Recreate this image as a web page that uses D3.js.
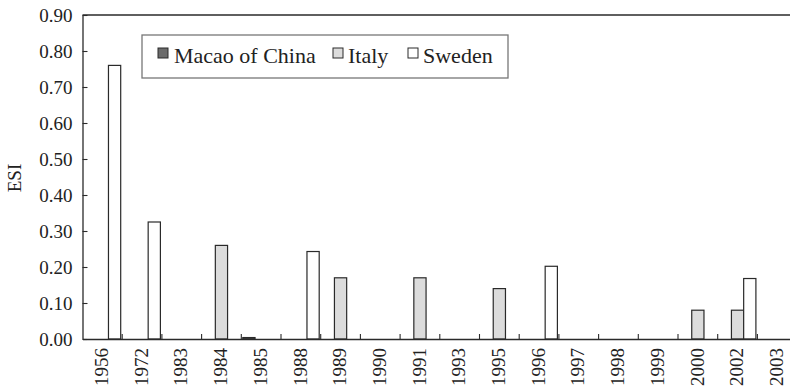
<!DOCTYPE html>
<html>
<head>
<meta charset="utf-8">
<script src="https://cdn.jsdelivr.net/npm/d3@7"></script>
<style>
  html, body { margin: 0; padding: 0; background: #fff; }
  svg { display: block; }
  text { font-family: "Liberation Serif", "Times New Roman", serif; fill: #222; }
</style>
</head>
<body>
<svg id="chart" width="790" height="392"></svg>
<script>
// Years on the category axis
const years = ["1956","1972","1983","1984","1985","1988","1989","1990","1991",
               "1993","1995","1996","1997","1998","1999","2000","2002","2003"];

// ESI per country and year (0 = no value)
const macao  = [0, 0, 0, 0, 0.004, 0, 0, 0, 0, 0, 0, 0, 0, 0, 0, 0, 0, 0];
const italy  = [0, 0, 0, 0.26, 0, 0, 0.17, 0, 0.17, 0, 0.14, 0, 0, 0, 0, 0.08, 0.08, 0];
const sweden = [0.76, 0.325, 0, 0, 0, 0.243, 0, 0, 0, 0, 0, 0.202, 0, 0, 0, 0, 0.168, 0];

const seriesNames = ["Macao of China", "Italy", "Sweden"];
const yTicks = [0, 0.1, 0.2, 0.3, 0.4, 0.5, 0.6, 0.7, 0.8, 0.9];

const fills = { "Macao of China": "#6b6b6b", "Italy": "#dcdcdc", "Sweden": "#ffffff" };
const ink = "#2a2a2a";

const series = [
  { name: "Macao of China", values: macao },
  { name: "Italy", values: italy },
  { name: "Sweden", values: sweden }
];

const svg = d3.select("#chart");
const plotLeft = 82.5, plotTop = 15, plotBottom = 339, bandW = 39.7;

const x0 = d3.scaleBand().domain(years).range([plotLeft, plotLeft + bandW * years.length]);
const x1 = d3.scaleBand().domain(seriesNames).range([1.5, x0.bandwidth() - 1.5]);
const y = d3.scaleLinear().domain([0, 0.9]).range([plotBottom, plotTop]);

// Bars
const groups = svg.append("g").selectAll("g")
  .data(years)
  .join("g")
  .attr("transform", d => `translate(${x0(d)},0)`);

groups.selectAll("rect")
  .data((d, i) => series.map(s => ({ name: s.name, value: s.values[i] })).filter(v => v.value > 0))
  .join("rect")
  .attr("x", d => x1(d.name))
  .attr("y", d => y(d.value))
  .attr("width", x1.bandwidth())
  .attr("height", d => Math.max(1, y(0) - y(d.value)))
  .attr("fill", d => fills[d.name])
  .attr("stroke", ink)
  .attr("stroke-width", 1.2);

// Y axis with inward ticks
const yAxis = svg.append("g")
  .attr("transform", `translate(${plotLeft},0)`)
  .call(d3.axisLeft(y).tickValues(yTicks).tickFormat(d3.format(".2f")).tickSizeInner(-5).tickSizeOuter(0).tickPadding(10));
yAxis.select(".domain").attr("stroke", ink).attr("stroke-width", 1.3);
yAxis.selectAll(".tick line").attr("stroke", ink).attr("stroke-width", 1.1);
yAxis.selectAll(".tick text").attr("font-size", 19).attr("fill", "#222")
  .style("font-family", "'Liberation Serif', serif");

// Top frame line
svg.append("line")
  .attr("x1", plotLeft).attr("x2", 790)
  .attr("y1", plotTop).attr("y2", plotTop)
  .attr("stroke", ink).attr("stroke-width", 1.3);

// X axis: baseline, rotated labels
const xAxis = svg.append("g")
  .attr("transform", `translate(0,${plotBottom})`)
  .call(d3.axisBottom(x0).tickSize(0).tickPadding(0));
xAxis.select(".domain").attr("stroke", ink).attr("stroke-width", 1.3);
xAxis.selectAll(".tick text")
  .attr("font-size", 19)
  .attr("fill", "#222")
  .style("font-family", "'Liberation Serif', serif")
  .attr("text-anchor", "end")
  .attr("transform", "rotate(-90)")
  .attr("x", -9)
  .attr("y", 0)
  .attr("dy", "0.3em");

// Inward ticks at category boundaries
svg.append("g").selectAll("line")
  .data(years.slice(0, -1))
  .join("line")
  .attr("x1", d => x0(d) + x0.bandwidth())
  .attr("x2", d => x0(d) + x0.bandwidth())
  .attr("y1", plotBottom)
  .attr("y2", plotBottom - 5)
  .attr("stroke", ink)
  .attr("stroke-width", 1.1);

// Y axis title
svg.append("text")
  .attr("transform", `translate(21,178) rotate(-90)`)
  .attr("text-anchor", "middle")
  .attr("font-size", 19)
  .text("ESI");

// Legend
const legend = svg.append("g");
legend.append("rect")
  .attr("x", 142).attr("y", 35).attr("width", 366).attr("height", 43)
  .attr("fill", "#fff").attr("stroke", "#777").attr("stroke-width", 1.3);

const legendItems = [
  { name: "Macao of China", sx: 158, tx: 174 },
  { name: "Italy", sx: 333, tx: 348 },
  { name: "Sweden", sx: 408, tx: 423 }
];
legendItems.forEach(it => {
  legend.append("rect")
    .attr("x", it.sx).attr("y", 48).attr("width", 10).attr("height", 10)
    .attr("fill", fills[it.name]).attr("stroke", ink).attr("stroke-width", 1);
  legend.append("text")
    .attr("x", it.tx).attr("y", 63)
    .attr("font-size", 22)
    .text(it.name);
});
</script>
</body>
</html>
